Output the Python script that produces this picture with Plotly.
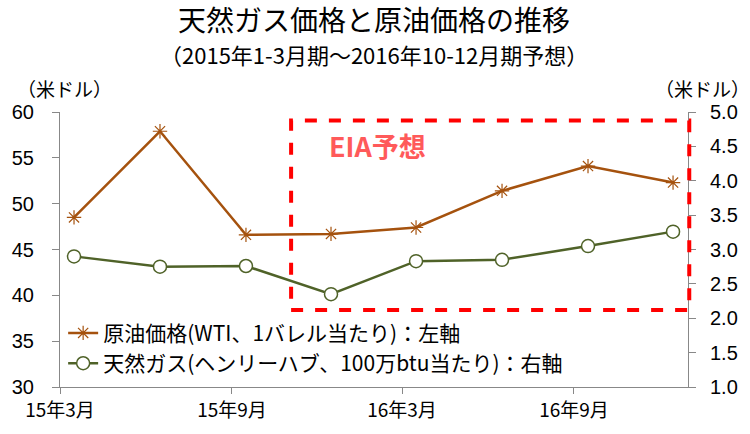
import plotly.graph_objects as go

# Data (quarterly, plotted at quarter-end month)
dates = ["2015-03-16", "2015-06-16", "2015-09-16", "2015-12-16",
         "2016-03-16", "2016-06-16", "2016-09-16", "2016-12-16"]
oil = [48.5, 57.9, 46.6, 46.7, 47.4, 51.4, 54.1, 52.3]
gas = [2.90, 2.75, 2.76, 2.35, 2.83, 2.85, 3.05, 3.26]

x_tickvals = ["2015-03-01", "2015-09-01", "2016-03-01", "2016-09-01"]
x_ticktext = ["15年3月", "15年9月", "16年3月", "16年9月"]
left_ticks = [30, 35, 40, 45, 50, 55, 60]
right_ticks = [1.0, 1.5, 2.0, 2.5, 3.0, 3.5, 4.0, 4.5, 5.0]

oil_name = "原油価格(WTI、1バレル当たり)：左軸"
gas_name = "天然ガス(ヘンリーハブ、100万btu当たり)：右軸"

JP = "Noto Sans CJK JP"
NUM = "Liberation Sans, Arial"
OIL_C = "#A5520E"
GAS_C = "#4F6228"

fig = go.Figure()
fig.add_trace(go.Scatter(
    x=dates, y=oil, name=oil_name, mode="lines+markers",
    line=dict(color=OIL_C, width=2.5),
    marker=dict(symbol="asterisk-open", size=12, color=OIL_C,
                line=dict(color=OIL_C, width=1.2)),
    yaxis="y"))
fig.add_trace(go.Scatter(
    x=dates, y=gas, name=gas_name, mode="lines+markers",
    line=dict(color=GAS_C, width=2.5),
    marker=dict(symbol="circle", size=13, color="white",
                line=dict(color=GAS_C, width=1.5)),
    yaxis="y2"))

# Forecast box
fig.add_shape(type="rect", xref="paper", yref="paper",
              x0=0.368, x1=1.002, y0=0.280, y1=0.969,
              line=dict(color="#FF0000", width=4, dash="dash"),
              fillcolor="rgba(0,0,0,0)", layer="above")

fig.add_annotation(text="<b>EIA予想</b>", xref="paper", yref="paper",
                   x=(327 - 57) / 636, y=(392.5 - 146) / 280.2, xanchor="left", yanchor="middle",
                   showarrow=False, font=dict(family=JP, size=27, color="#FF5A5A"))

# Titles
fig.add_annotation(text="天然ガス価格と原油価格の推移", xref="paper", yref="paper",
                   x=(375 - 57) / 636, y=(392.5 - 18) / 280.2, xanchor="center", yanchor="middle",
                   showarrow=False, font=dict(family=JP, size=28, color="black"))
fig.add_annotation(text="（2015年1-3月期～2016年10-12月期予想）", xref="paper", yref="paper",
                   x=(375 - 57) / 636, y=(392.5 - 53) / 280.2, xanchor="center", yanchor="middle",
                   showarrow=False, font=dict(family=JP, size=22, color="black"))
fig.add_annotation(text="（米ドル）", xref="paper", yref="paper",
                   x=(62 - 57) / 636, y=(392.5 - 88) / 280.2, xanchor="center", yanchor="middle",
                   showarrow=False, font=dict(family=JP, size=19, color="black"))
fig.add_annotation(text="（米ドル）", xref="paper", yref="paper",
                   x=(708 - 57) / 636, y=(392.5 - 88) / 280.2, xanchor="center", yanchor="middle",
                   showarrow=False, font=dict(family=JP, size=19, color="black"))

fig.update_layout(
    width=750, height=434,
    margin=dict(l=57, r=57, t=112, b=41.5),
    paper_bgcolor="white", plot_bgcolor="white",
    showlegend=True,
    legend=dict(x=0.005, y=0.27, xanchor="left", yanchor="top",
                bgcolor="rgba(0,0,0,0)", font=dict(family=JP, size=21, color="black"),
                itemwidth=30, tracegroupgap=0),
    xaxis=dict(type="date", range=["2015-03-01", "2017-01-01"],
               tickvals=x_tickvals, ticktext=x_ticktext,
               showgrid=False, zeroline=False,
               showline=True, linecolor="#888888", linewidth=1,
               ticks="outside", ticklen=6, tickcolor="#888888",
               tickfont=dict(family=JP, size=19, color="black")),
    yaxis=dict(range=[30, 60], tickvals=left_ticks,
               showgrid=False, zeroline=False,
               showline=True, linecolor="#888888", linewidth=1,
               ticks="outside", ticklen=7, tickcolor="#888888",
               ticklabelstandoff=14,
               tickfont=dict(family=NUM, size=20, color="black")),
    yaxis2=dict(range=[1, 5], tickvals=right_ticks, tickformat=".1f",
                overlaying="y", side="right",
                showgrid=False, zeroline=False,
                showline=True, linecolor="#888888", linewidth=1,
                ticks="outside", ticklen=7, tickcolor="#888888",
                ticklabelstandoff=10,
                tickfont=dict(family=NUM, size=20, color="black")),
)

fig.write_html("out.html", config={"displayModeBar": False},
               post_script="document.body.style.margin='0';")
